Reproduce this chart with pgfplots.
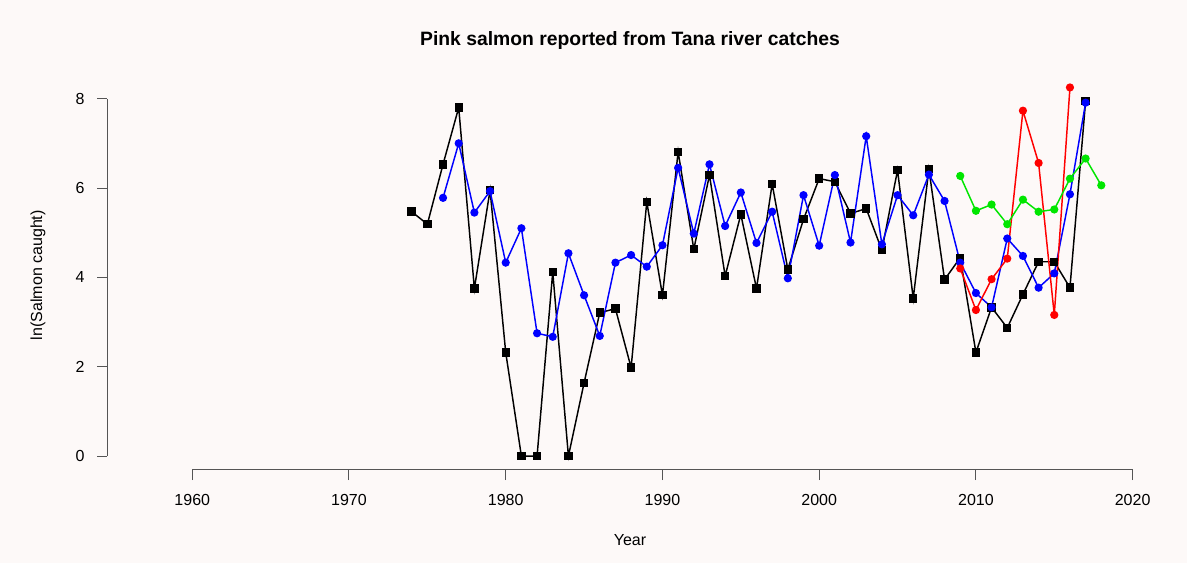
\documentclass[border=0pt]{standalone}
\usepackage{fontspec}
\setmainfont{Liberation Sans}
\usepackage{pgfplots}
\usepackage{pgfplotstable}
\pgfplotsset{compat=1.18}

\definecolor{bg}{RGB}{253,249,248}
\definecolor{axisgray}{RGB}{85,85,85}
\definecolor{rblue}{RGB}{0,0,255}
\definecolor{rred}{RGB}{255,0,0}
\definecolor{rgreen}{RGB}{0,230,0}

% ln(catch) per year, four sources
\pgfplotstableread{
year val
1974 5.47
1975 5.19
1976 6.53
1977 7.80
1978 3.75
1979 5.95
1980 2.32
1981 0
1982 0
1983 4.12
1984 0
1985 1.64
1986 3.21
1987 3.30
1988 1.98
1989 5.69
1990 3.60
1991 6.81
1992 4.63
1993 6.29
1994 4.03
1995 5.41
1996 3.75
1997 6.09
1998 4.18
1999 5.30
2000 6.21
2001 6.14
2002 5.43
2003 5.54
2004 4.61
2005 6.40
2006 3.53
2007 6.42
2008 3.95
2009 4.44
2010 2.32
2011 3.33
2012 2.87
2013 3.62
2014 4.35
2015 4.35
2016 3.77
2017 7.95
}\blackdata

\pgfplotstableread{
year val
1976 5.78
1977 7.00
1978 5.45
1979 5.93
1980 4.33
1981 5.10
1982 2.75
1983 2.67
1984 4.54
1985 3.60
1986 2.69
1987 4.33
1988 4.50
1989 4.24
1990 4.72
1991 6.45
1992 4.98
1993 6.53
1994 5.15
1995 5.90
1996 4.77
1997 5.47
1998 3.98
1999 5.84
2000 4.71
2001 6.29
2002 4.78
2003 7.16
2004 4.74
2005 5.84
2006 5.39
2007 6.30
2008 5.71
2009 4.33
2010 3.65
2011 3.33
2012 4.87
2013 4.48
2014 3.77
2015 4.09
2016 5.86
2017 7.91
}\bluedata

\pgfplotstableread{
year val
2009 4.20
2010 3.27
2011 3.96
2012 4.42
2013 7.73
2014 6.56
2015 3.16
2016 8.25
}\reddata

\pgfplotstableread{
year val
2009 6.27
2010 5.49
2011 5.63
2012 5.19
2013 5.74
2014 5.47
2015 5.52
2016 6.21
2017 6.66
2018 6.06
}\greendata

\begin{document}
\begin{tikzpicture}
\fill[bg] (0,0) rectangle (890.25pt,422.25pt);
\begin{axis}[
    at={(80.25pt,69.75pt)}, anchor=south west,
    scale only axis,
    width=784.5pt, height=298.3pt,
    xmin=1954.56, xmax=2021.3,
    ymin=-0.31, ymax=8.59,
    axis lines*=left,
    axis line style={draw=none},
    tick align=outside,
    major tick length=7.5pt,
    every tick/.style={axisgray, line width=0.75pt},
    xtick={1960,1970,...,2020},
    ytick={0,2,...,8},
    xticklabel style={/pgf/number format/1000 sep={}},
    /pgf/number format/assume math mode=true,
    tick label style={font=\fontsize{12}{14}\selectfont, anchor=center},
    xticklabel style={yshift=-15pt},
    yticklabel style={xshift=-12.75pt},
    title={\textbf{Pink salmon reported from Tana river catches}},
    title style={font=\fontsize{14.5}{17}\selectfont, at={(axis description cs:0.5,1.061)}, anchor=center},
    xlabel={Year},
    xlabel style={font=\fontsize{12}{14}\selectfont, at={(axis description cs:0.5,-0.176)}, anchor=center},
    ylabel={ln(Salmon caught)},
    ylabel style={font=\fontsize{12}{14}\selectfont, at={(axis description cs:-0.066,0.49)}, anchor=center},
    clip=false,
]
\draw[axisgray, line width=0.75pt] (axis cs:1960,-0.31) -- (axis cs:2020,-0.31);
\draw[axisgray, line width=0.75pt] (axis cs:1954.56,0) -- (axis cs:1954.56,8);

\addplot[black, line width=1.1pt, mark=square*, mark size=2.6pt, mark options={solid, fill=black}] table[x=year, y=val] {\blackdata};
\addplot[rblue, line width=1.1pt, mark=*, mark size=2.5pt, mark options={solid, fill=rblue}] table[x=year, y=val] {\bluedata};
\addplot[rred, line width=1.1pt, mark=*, mark size=2.5pt, mark options={solid, fill=rred}] table[x=year, y=val] {\reddata};
\addplot[rgreen, line width=1.1pt, mark=*, mark size=2.5pt, mark options={solid, fill=rgreen}] table[x=year, y=val] {\greendata};
\end{axis}
\pgfresetboundingbox
\path (0,0) rectangle (890.25pt,422.25pt);
\end{tikzpicture}
\end{document}
